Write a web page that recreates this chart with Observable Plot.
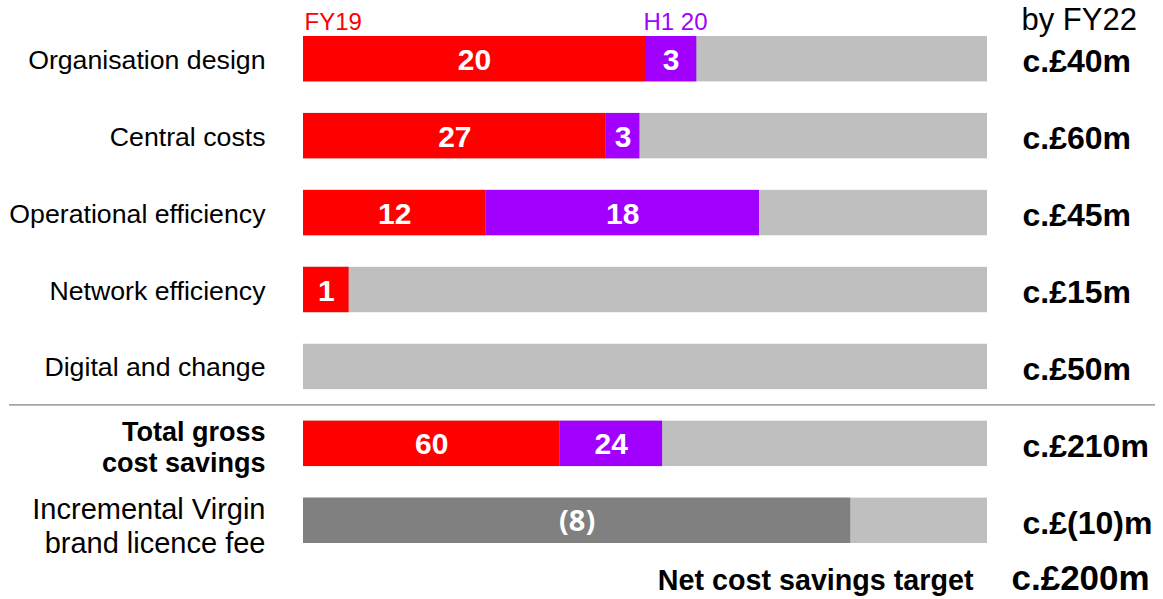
<!DOCTYPE html>
<html><head><meta charset="utf-8">
<script src="https://cdn.jsdelivr.net/npm/d3@7"></script>
<script src="https://cdn.jsdelivr.net/npm/@observablehq/plot@0.6"></script>
<style>html,body{margin:0;padding:0;background:#fff}#chart svg{display:block}</style>
</head><body><div id="chart"></div>
<script>
// ---- data ----
const categories = ["org", "central", "operational", "network", "digital", "total", "virgin"];
const rowLabels = ["Organisation design", "Central costs", "Operational efficiency", "Network efficiency", "Digital and change", "Total gross\ncost savings", "Incremental Virgin\nbrand licence fee"];
const fy19 = [20, 27, 12, 1, 0, 60, 0];
const h1_20 = [3, 3, 18, 0, 0, 24, 0];
const licenceFee = [0, 0, 0, 0, 0, 0, 8];
const licenceFeeLabel = "(8)";
// full-bar value each bar is drawn against
const barBasis = [40, 61, 45, 15, 50, 160, 10];
const targetLabels = ["c.£40m", "c.£60m", "c.£45m", "c.£15m", "c.£50m", "c.£210m", "c.£(10)m"];
const seriesLabels = ["FY19", "H1 20"];
const targetHeader = "by FY22";
const netLabel = "Net cost savings target";
const netTarget = "c.£200m";

// ---- build table ----
const rows = categories.map((c, i) => ({
  cat: c, label: rowLabels[i], fy19: fy19[i], h1: h1_20[i], fee: licenceFee[i],
  basis: barBasis[i], target: targetLabels[i]
}));
const font = "Liberation Sans, Arial, Helvetica, sans-serif";
const RED = "#FF0000", PURPLE = "#A100FF", GREY = "#BFBFBF", DARK = "#808080";

const first = rows[0], last = rows[rows.length - 1];
const plainRows = rows.slice(0, 5);

const chart = Plot.plot({
  width: 1163, height: 599,
  marginTop: 0, marginBottom: 0, marginLeft: 9, marginRight: 8,
  style: {fontFamily: font, background: "#fff"},
  x: {domain: [0, 1], range: [303, 987], axis: null},
  y: {domain: categories, range: [36, 543], paddingInner: 0.41, paddingOuter: 0, round: false, axis: null},
  marks: [
    // separator above totals
    Plot.ruleY(["total"], {y: d => d, dy: -39, stroke: "#A6A6A6", strokeWidth: 1.6}),
    // background (target) bars
    Plot.barX(rows, {y: "cat", x1: 0, x2: 1, fill: GREY}),
    Plot.barX(rows.filter(d => d.fy19 > 0), {y: "cat", x1: 0, x2: d => d.fy19 / d.basis, fill: RED}),
    Plot.barX(rows.filter(d => d.h1 > 0), {y: "cat", x1: d => d.fy19 / d.basis, x2: d => (d.fy19 + d.h1) / d.basis, fill: PURPLE}),
    Plot.barX(rows.filter(d => d.fee > 0), {y: "cat", x1: 0, x2: d => d.fee / d.basis, fill: DARK}),
    // values in segments
    Plot.text(rows.filter(d => d.fy19 > 0), {y: "cat", x: d => d.fy19 / d.basis / 2, text: d => String(d.fy19),
      fill: "#fff", fontWeight: "bold", fontSize: 30, dy: 1}),
    Plot.text(rows.filter(d => d.h1 > 0), {y: "cat", x: d => (d.fy19 + d.h1 / 2) / d.basis, text: d => String(d.h1),
      fill: "#fff", fontWeight: "bold", fontSize: 30, dy: 1}),
    Plot.text(rows.filter(d => d.fee > 0), {y: "cat", x: d => d.fee / d.basis / 2, text: () => licenceFeeLabel,
      fill: "#fff", fontWeight: "bold", fontSize: 29, fontFamily: "Open Sans, sans-serif", dy: 1}),
    // left row labels
    Plot.text(plainRows, {y: "cat", x: 0, text: "label", textAnchor: "end", dx: -38, dy: 1, fontSize: 26.7, fill: "#000"}),
    Plot.text([rows[5]], {y: "cat", x: 0, text: "label", textAnchor: "end", dx: -38, dy: 3, fontSize: 27, fontWeight: "bold", lineHeight: 1.15, fill: "#000"}),
    Plot.text([rows[6]], {y: "cat", x: 0, text: "label", textAnchor: "end", dx: -38, dy: 4, fontSize: 29, lineHeight: 1.17, fill: "#000"}),
    // right target labels
    Plot.text(rows, {y: "cat", x: 1, text: "target", textAnchor: "start", dx: 35, dy: 3, fontSize: 32, fontWeight: "bold", fill: "#000"}),
    // header labels
    Plot.text([first], {y: "cat", x: 0, text: () => seriesLabels[0], textAnchor: "start", lineAnchor: "bottom", dx: 1, dy: -29.4, fontSize: 24, fill: RED}),
    Plot.text([first], {y: "cat", x: d => d.fy19 / d.basis, text: () => seriesLabels[1], textAnchor: "start", lineAnchor: "bottom", dx: -2, dy: -29.4, fontSize: 24, fill: PURPLE}),
    Plot.text([first], {y: "cat", x: 1, text: () => targetHeader, textAnchor: "start", lineAnchor: "bottom", dx: 34, dy: -29, fontSize: 31, fill: "#000"}),
    // net target row
    Plot.text([last], {y: "cat", x: 1, text: () => netLabel, textAnchor: "end", lineAnchor: "bottom", dx: -14, dy: 69, fontSize: 28.7, fontWeight: "bold", fill: "#000"}),
    Plot.text([last], {y: "cat", x: 1, text: () => netTarget, textAnchor: "start", lineAnchor: "bottom", dx: 24, dy: 69.5, fontSize: 35, fontWeight: "bold", fill: "#000"})
  ]
});
document.getElementById("chart").appendChild(chart);
</script>
</body></html>
